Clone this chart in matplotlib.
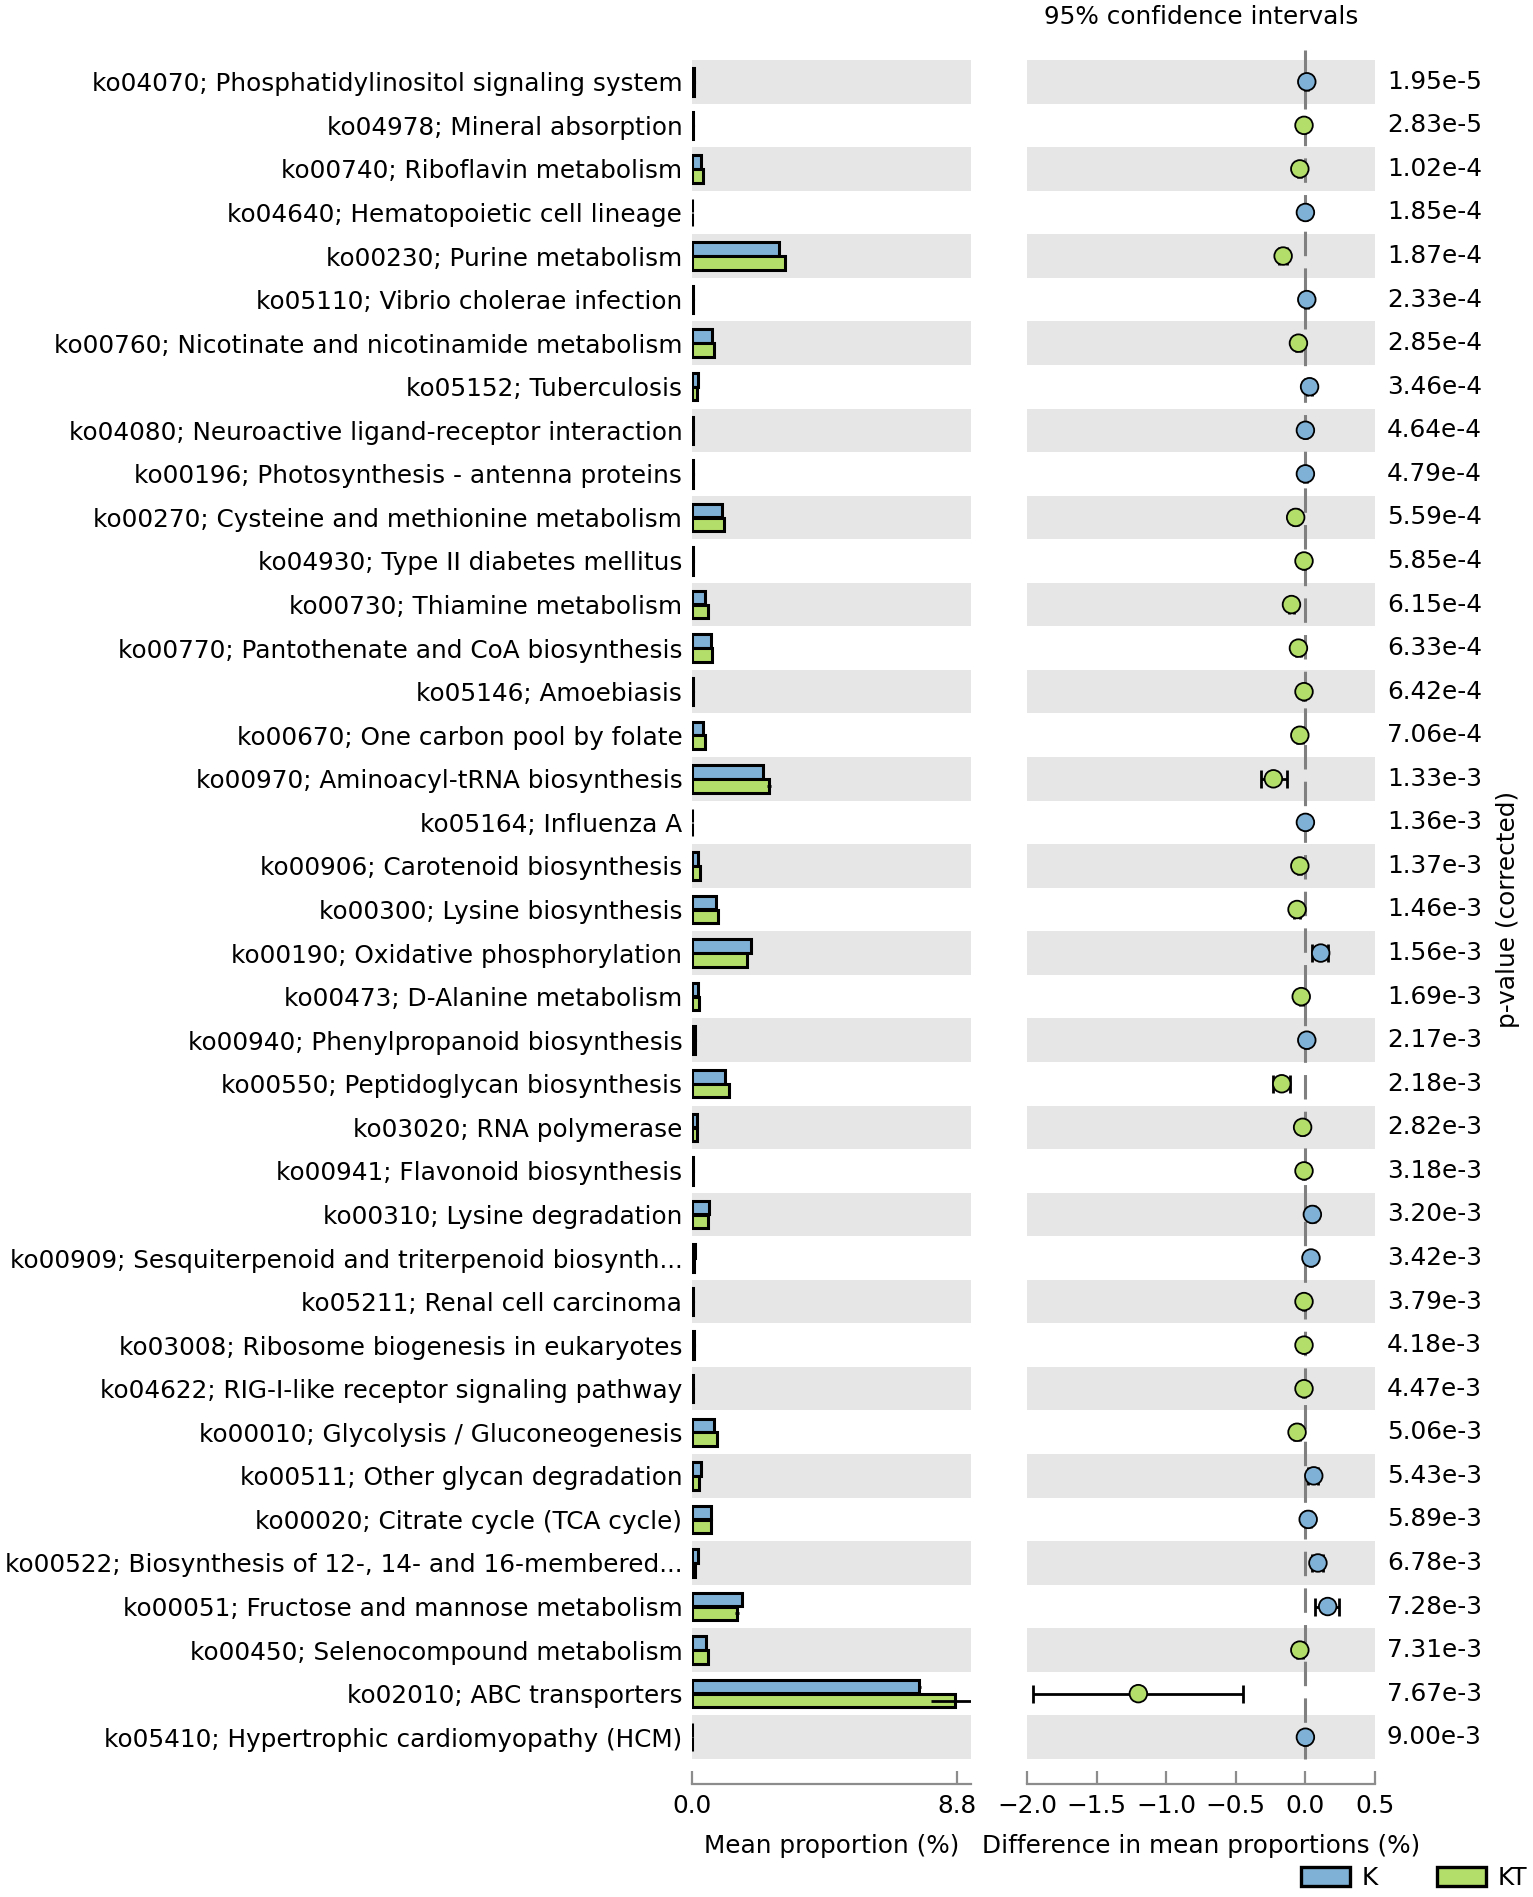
import numpy as np
import matplotlib
matplotlib.use("Agg")
import matplotlib.pyplot as plt
from matplotlib.patches import Patch

# pathways, top to bottom
labels = [
    "ko04070; Phosphatidylinositol signaling system",
    "ko04978; Mineral absorption",
    "ko00740; Riboflavin metabolism",
    "ko04640; Hematopoietic cell lineage",
    "ko00230; Purine metabolism",
    "ko05110; Vibrio cholerae infection",
    "ko00760; Nicotinate and nicotinamide metabolism",
    "ko05152; Tuberculosis",
    "ko04080; Neuroactive ligand-receptor interaction",
    "ko00196; Photosynthesis - antenna proteins",
    "ko00270; Cysteine and methionine metabolism",
    "ko04930; Type II diabetes mellitus",
    "ko00730; Thiamine metabolism",
    "ko00770; Pantothenate and CoA biosynthesis",
    "ko05146; Amoebiasis",
    "ko00670; One carbon pool by folate",
    "ko00970; Aminoacyl-tRNA biosynthesis",
    "ko05164; Influenza A",
    "ko00906; Carotenoid biosynthesis",
    "ko00300; Lysine biosynthesis",
    "ko00190; Oxidative phosphorylation",
    "ko00473; D-Alanine metabolism",
    "ko00940; Phenylpropanoid biosynthesis",
    "ko00550; Peptidoglycan biosynthesis",
    "ko03020; RNA polymerase",
    "ko00941; Flavonoid biosynthesis",
    "ko00310; Lysine degradation",
    "ko00909; Sesquiterpenoid and triterpenoid biosynth...",
    "ko05211; Renal cell carcinoma",
    "ko03008; Ribosome biogenesis in eukaryotes",
    "ko04622; RIG-I-like receptor signaling pathway",
    "ko00010; Glycolysis / Gluconeogenesis",
    "ko00511; Other glycan degradation",
    "ko00020; Citrate cycle (TCA cycle)",
    "ko00522; Biosynthesis of 12-, 14- and 16-membered...",
    "ko00051; Fructose and mannose metabolism",
    "ko00450; Selenocompound metabolism",
    "ko02010; ABC transporters",
    "ko05410; Hypertrophic cardiomyopathy (HCM)",
]

# mean proportions (%)
k_mean = [0.08, 0.02, 0.30, 0.01, 2.90, 0.02, 0.66, 0.20, 0.02, 0.02,
          1.00, 0.02, 0.42, 0.62, 0.02, 0.38, 2.35, 0.01, 0.20, 0.80,
          1.95, 0.20, 0.10, 1.08, 0.15, 0.02, 0.55, 0.10, 0.02, 0.05,
          0.02, 0.72, 0.30, 0.62, 0.20, 1.65, 0.45, 7.55, 0.01]
kt_mean = [0.06, 0.02, 0.35, 0.01, 3.08, 0.02, 0.72, 0.15, 0.02, 0.02,
           1.07, 0.02, 0.52, 0.68, 0.02, 0.43, 2.55, 0.01, 0.25, 0.87,
           1.83, 0.22, 0.10, 1.24, 0.15, 0.02, 0.52, 0.08, 0.02, 0.05,
           0.02, 0.82, 0.22, 0.62, 0.10, 1.50, 0.52, 8.72, 0.01]
k_err = [0, 0, 0, 0, 0, 0, 0, 0, 0, 0, 0, 0, 0, 0, 0, 0, 0, 0, 0, 0,
         0, 0, 0, 0, 0, 0, 0, 0, 0, 0, 0, 0, 0, 0, 0, 0, 0, 0.06, 0]
kt_err = [0, 0, 0, 0, 0, 0, 0, 0, 0, 0, 0, 0, 0, 0, 0, 0, 0.06, 0, 0, 0,
          0, 0, 0, 0, 0, 0, 0, 0, 0, 0, 0, 0, 0, 0, 0, 0.06, 0, 0.8, 0]

# difference in mean proportions (%) and 95% CI
diff = [0.01, -0.01, -0.04, 0.0, -0.16, 0.01, -0.05, 0.03, 0.0, 0.0,
        -0.07, -0.01, -0.10, -0.05, -0.01, -0.04, -0.23, 0.0, -0.04, -0.06,
        0.11, -0.03, 0.01, -0.17, -0.02, -0.01, 0.05, 0.04, -0.01, -0.01,
        -0.01, -0.06, 0.06, 0.02, 0.09, 0.16, -0.04, -1.20, 0.0]
ci_low = [0.0, -0.02, -0.05, -0.01, -0.19, 0.0, -0.07, 0.01, -0.01, -0.01,
          -0.09, -0.02, -0.12, -0.07, -0.02, -0.06, -0.32, -0.01, -0.05, -0.08,
          0.05, -0.04, 0.0, -0.23, -0.03, -0.02, 0.03, 0.03, -0.02, -0.02,
          -0.02, -0.08, 0.02, 0.0, 0.05, 0.07, -0.06, -1.96, -0.01]
ci_high = [0.02, 0.0, -0.03, 0.01, -0.13, 0.02, -0.03, 0.05, 0.01, 0.01,
           -0.05, 0.0, -0.08, -0.03, 0.0, -0.02, -0.13, 0.01, -0.03, -0.04,
           0.16, -0.02, 0.02, -0.11, -0.01, 0.0, 0.07, 0.05, 0.0, 0.0,
           0.0, -0.04, 0.09, 0.04, 0.13, 0.24, -0.02, -0.45, 0.01]

pvalues = ["1.95e-5", "2.83e-5", "1.02e-4", "1.85e-4", "1.87e-4", "2.33e-4",
           "2.85e-4", "3.46e-4", "4.64e-4", "4.79e-4", "5.59e-4", "5.85e-4",
           "6.15e-4", "6.33e-4", "6.42e-4", "7.06e-4", "1.33e-3", "1.36e-3",
           "1.37e-3", "1.46e-3", "1.56e-3", "1.69e-3", "2.17e-3", "2.18e-3",
           "2.82e-3", "3.18e-3", "3.20e-3", "3.42e-3", "3.79e-3", "4.18e-3",
           "4.47e-3", "5.06e-3", "5.43e-3", "5.89e-3", "6.78e-3", "7.28e-3",
           "7.31e-3", "7.67e-3", "9.00e-3"]

groups = ["K", "KT"]
col_k = "#7fb1d6"
col_kt = "#b3de69"
band = "#e6e6e6"
axis_gray = "#8c8c8c"
fs = 17.8

n = len(labels)
y = np.arange(n)[::-1]
diff = np.array(diff)

W, H = 1533, 1897
fig = plt.figure(figsize=(W / 100, H / 100), dpi=100)
plt.rcParams['font.family'] = 'DejaVu Sans'

bottom = (H - 1759) / H
height = (1759 - 60) / H
ax1 = fig.add_axes([692 / W, bottom, (971 - 692) / W, height])
ax2 = fig.add_axes([1027 / W, bottom, (1375 - 1027) / W, height])

for ax in (ax1, ax2):
    for i in range(0, n, 2):
        ax.axhspan(y[i] - 0.5, y[i] + 0.5, color=band, lw=0, zorder=0)
    ax.set_ylim(-0.5, n - 0.5)
    for s in ["top", "right", "left"]:
        ax.spines[s].set_visible(False)
    ax.spines["bottom"].set_position(("outward", 18))
    ax.spines["bottom"].set_color(axis_gray)
    ax.spines["bottom"].set_linewidth(1.6)
    ax.tick_params(axis="x", direction="in", length=9.5, width=1.6,
                   color=axis_gray, labelsize=fs, pad=7)

# mean proportions
bh = 0.31
ax1.barh(y + 0.16, k_mean, height=bh, color=col_k, edgecolor="black",
         linewidth=2.2, zorder=2)
ax1.barh(y - 0.16, kt_mean, height=bh, color=col_kt, edgecolor="black",
         linewidth=2.2, zorder=2)
ax1.errorbar(k_mean, y + 0.16, xerr=k_err, fmt="none", ecolor="black",
             elinewidth=2, capsize=0, zorder=3)
ax1.errorbar(kt_mean, y - 0.16, xerr=kt_err, fmt="none", ecolor="black",
             elinewidth=2, capsize=0, zorder=3)
ax1.set_xlim(0, 9.26)
ax1.set_xticks([0, 8.8])
ax1.set_xticklabels(["0.0", "8.8"])
ax1.set_yticks(y)
ax1.set_yticklabels(labels, fontsize=fs)
ax1.tick_params(axis="y", length=0, pad=7)
ax1.set_xlabel("Mean proportion (%)", fontsize=fs, labelpad=12)

# differences with confidence intervals
ax2.plot([0, 0], [-0.5, n - 0.27], color="#808080", lw=2.2, dashes=(8, 4),
         zorder=1, clip_on=False)
err = np.vstack([diff - np.array(ci_low), np.array(ci_high) - diff])
ax2.errorbar(diff, y, xerr=err, fmt="none", ecolor="black", elinewidth=2,
             capsize=6.5, capthick=2, zorder=2)
colors = [col_k if d > 0 or (d == 0 and km >= ktm) else col_kt
          for d, km, ktm in zip(diff, k_mean, kt_mean)]
ax2.scatter(diff, y, s=160, c=colors, edgecolors="black", linewidths=1.3,
            zorder=3)
ax2.set_xlim(-2.0, 0.5)
ax2.set_xticks([-2.0, -1.5, -1.0, -0.5, 0.0, 0.5])
ax2.set_xticklabels(["\u22122.0", "\u22121.5", "\u22121.0", "\u22120.5", "0.0", "0.5"])
ax2.set_yticks([])
ax2.set_xlabel("Difference in mean proportions (%)", fontsize=fs, labelpad=12)
ax2.set_title("95% confidence intervals", fontsize=fs, pad=26)

for yi, p in zip(y, pvalues):
    ax2.text(1.034, yi, p, transform=ax2.get_yaxis_transform(),
             ha="left", va="center", fontsize=fs)

fig.text(1508 / W, bottom + height / 2, "p-value (corrected)", rotation=90,
         ha="center", va="center", fontsize=fs)

handles = [Patch(facecolor=col_k, edgecolor="black", linewidth=2.4),
           Patch(facecolor=col_kt, edgecolor="black", linewidth=2.4)]
fig.legend(handles, groups, loc="center right", ncol=2, frameon=False,
           fontsize=fs, bbox_to_anchor=(1527 / W, 1 - 1878 / H),
           borderaxespad=0, borderpad=0, handlelength=2.0, handleheight=0.8,
           handletextpad=0.45, columnspacing=2.4)

fig.savefig("out.png", dpi=100)
